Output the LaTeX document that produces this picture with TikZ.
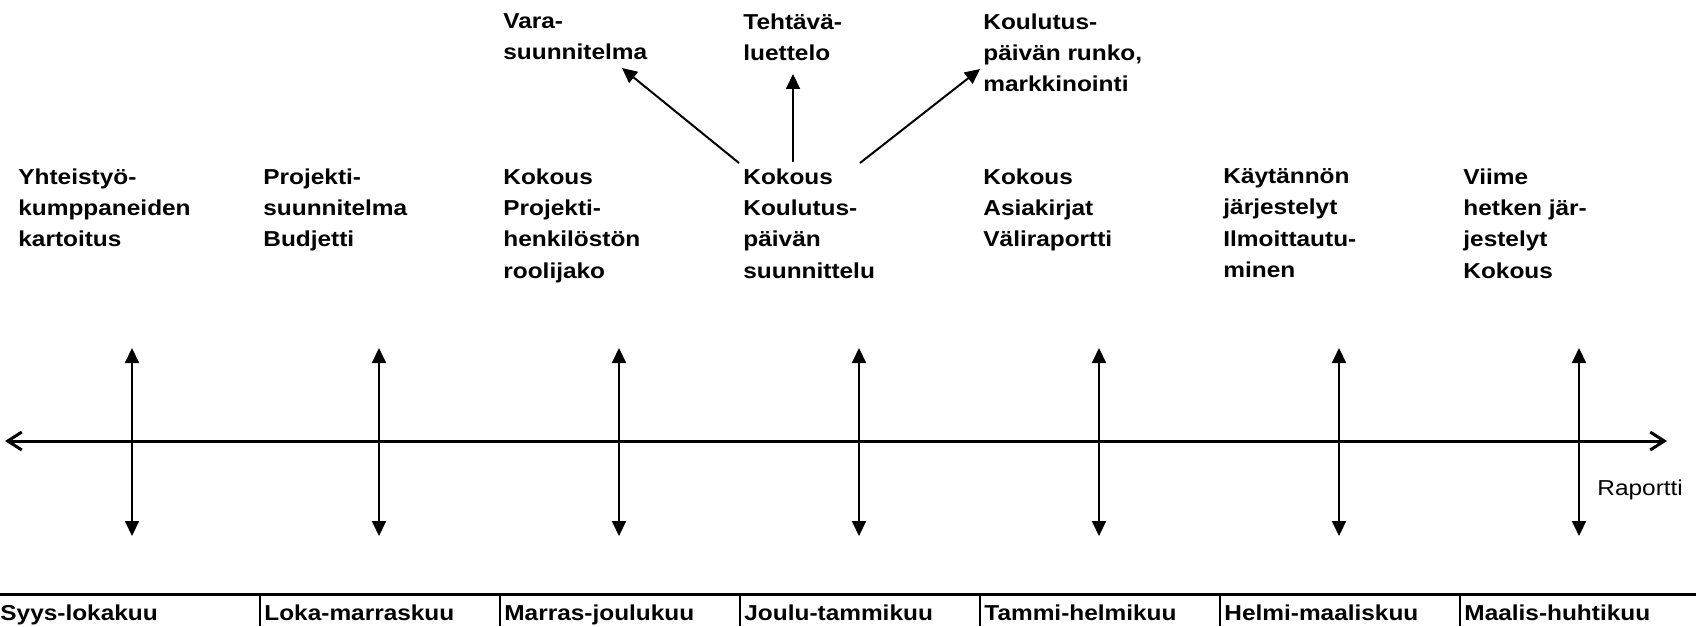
\documentclass[tikz,border=0pt]{standalone}
\usepackage{fontspec}
\setmainfont{Liberation Sans}[FakeStretch=1.13]
\usetikzlibrary{arrows.meta}

\tikzset{
  lbl/.style={ anchor=north west, align=left, inner sep=0pt, font=\bfseries\fontsize{10.8}{15.7}\selectfont }
}
\tikzset{
  cell/.style={ anchor=base west, inner sep=0pt, font=\bfseries\fontsize{10.8}{15.7}\selectfont }
}
\tikzset{
  note/.style={ anchor=base west, inner sep=0pt, font=\fontsize{10.8}{15.7}\selectfont }
}
\tikzset{
  axis/.style={ {Straight Barb[length=7pt,width=9pt]}-{Straight Barb[length=7pt,width=9pt]}, line width=1.5pt }
}
\tikzset{
  tick/.style={ {Triangle[length=7.5pt,width=7pt]}-{Triangle[length=7.5pt,width=7pt]}, line width=1pt }
}
\tikzset{
  up/.style={ -{Triangle[length=7.5pt,width=7pt]}, line width=1pt }
}

\begin{document}
\begin{tikzpicture}[x=0.5pt,y=-0.5pt]
      \useasboundingbox (0,0) rectangle (1696,626);

      % time line
      \draw[axis] (5,441) -- (1667,441);

      \draw[tick] (132,348) -- (132,536);
      \draw[tick] (379,348) -- (379,536);
      \draw[tick] (619,348) -- (619,536);
      \draw[tick] (859,348) -- (859,536);
      \draw[tick] (1099,348) -- (1099,536);
      \draw[tick] (1339,348) -- (1339,536);
      \draw[tick] (1579,348) -- (1579,536);

      \node[note] (rap) at (1597,495) {Raportti};

      % tasks per month
      \node[lbl] (m1) at (18,168) {Yhteistyö-\\kumppaneiden\\kartoitus};
      \node[lbl] (m2) at (263,168) {Projekti-\\suunnitelma\\Budjetti};
      \node[lbl] (m3) at (503,168) {Kokous\\Projekti-\\henkilöstön\\roolijako};
      \node[lbl] (m4) at (743,168) {Kokous\\Koulutus-\\päivän\\suunnittelu};
      \node[lbl] (m5) at (983,168) {Kokous\\Asiakirjat\\Väliraportti};
      \node[lbl] (m6) at (1223,168) {Käytännön\\järjestelyt\\Ilmoittautu-\\minen};
      \node[lbl] (m7) at (1463,168) {Viime\\hetken jär-\\jestelyt\\Kokous};

      \node[lbl] (vara) at (503,13) {Vara-\\suunnitelma};
      \node[lbl] (teht) at (743,13) {Tehtävä-\\luettelo};
      \node[lbl] (runko) at (983,13) {Koulutus-\\päivän runko,\\markkinointi};

      \draw[up] ([shift={(-4,-5)}]m4.north west) -- ([shift={(119,55)}]vara.north west);
      \draw[up] ([shift={(50,-6)}]m4.north west) -- ([shift={(50,61)}]teht.north west);
      \draw[up] ([shift={(117,-5)}]m4.north west) -- ([shift={(-3,56)}]runko.north west);

      % months
      \draw[line width=1.5pt] (0,594) -- (1696,594);
      \draw[line width=1pt] (260,594) -- (260,626);
      \draw[line width=1pt] (500,594) -- (500,626);
      \draw[line width=1pt] (740,594) -- (740,626);
      \draw[line width=1pt] (980,594) -- (980,626);
      \draw[line width=1pt] (1220,594) -- (1220,626);
      \draw[line width=1pt] (1460,594) -- (1460,626);

      \node[cell] (c1) at (0,620) {Syys-lokakuu};
      \node[cell] (c2) at (264,620) {Loka-marraskuu};
      \node[cell] (c3) at (504,620) {Marras-joulukuu};
      \node[cell] (c4) at (744,620) {Joulu-tammikuu};
      \node[cell] (c5) at (984,620) {Tammi-helmikuu};
      \node[cell] (c6) at (1224,620) {Helmi-maaliskuu};
      \node[cell] (c7) at (1464,620) {Maalis-huhtikuu};
    \end{tikzpicture}
\end{document}
